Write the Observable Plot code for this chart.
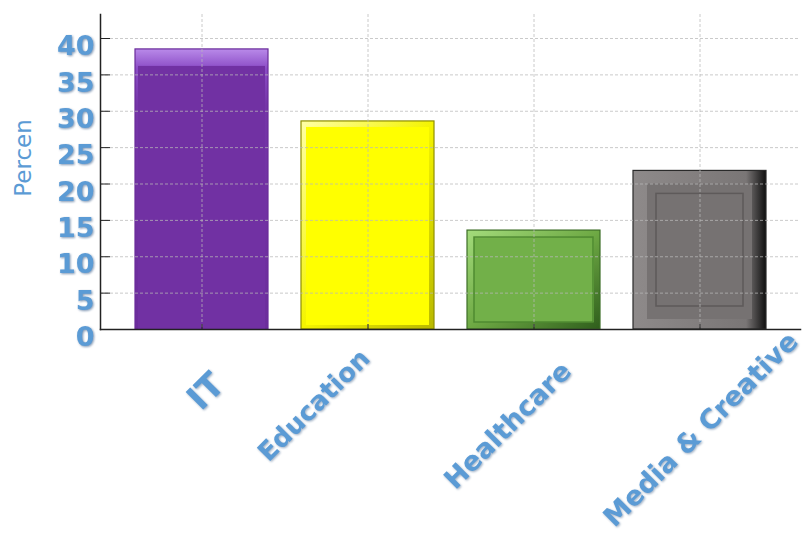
<!DOCTYPE html>
<html><head><meta charset="utf-8">
<script src="https://cdn.jsdelivr.net/npm/d3@7"></script>
<script src="https://cdn.jsdelivr.net/npm/@observablehq/plot@0.6"></script>
<style>
body{margin:0;background:#fff;}
#chart svg{display:block;}
</style></head><body><div id="chart"></div>
<script>
// ---- data ----
const categories = ["IT", "Education", "Healthcare", "Media & Creative"];
const values = [38.5, 28.6, 13.6, 21.8];
const yTicks = [0, 5, 10, 15, 20, 25, 30, 35, 40];
const yLabel = "Percen";

// ---- styles (not data) ----
const styles = [
  {base: "#7131a3", edge: "#6a2c9a", grad: [[0, "#b98ae9"], [0.07, "#8b4cc6"], [0.2, "#7535a8"], [1, "#6c2d9c"]], gx: [0, 0, 0, 1],
   ins: {t: 17, l: 3, r: 3, b: 0}, panel: null, size: 34, dx: 4, dy: 62},
  {base: "#ffff00", edge: "#8f8f00", grad: [[0, "#ffffa8"], [0.5, "#f4f400"], [1, "#b8b800"]], gx: [0, 0, 1, 1],
   ins: {t: 6, l: 5, r: 5, b: 4}, panel: null, size: 26, dx: -54, dy: 76},
  {base: "#72b049", edge: "#3d6e27", grad: [[0, "#a4dc7c"], [0.5, "#6ea944"], [1, "#2f5e1c"]], gx: [0, 0, 1, 1],
   ins: {t: 8, l: 7, r: 6, b: 7}, panel: "#4f8a31", pins: 7, size: 27, dx: -26, dy: 96},
  {base: "#767272", edge: "#2a2a2a", grad: [[0, "#8e8a8a"], [0.85, "#7a7676"], [1, "#101010"]], gx: [0, 0, 1, 0],
   ins: {t: 13, l: 14, r: 14, b: 10}, panel: "#5e5a5a", pins: 23, size: 27, dx: 1, dy: 100}
];
const blue = "#5b9bd5";

const data = categories.map((c, i) => ({category: c, value: values[i]}));

const barMarks = data.flatMap((d, i) => {
  const s = styles[i];
  const m = [
    Plot.barY([d], {x: "category", y: "value", fill: `url(#bev${i})`, stroke: s.edge, strokeWidth: 1.2}),
    Plot.barY([d], {x: "category", y: "value", fill: s.base,
      insetTop: s.ins.t, insetLeft: s.ins.l, insetRight: s.ins.r, insetBottom: s.ins.b})
  ];
  if (s.panel) {
    m.push(Plot.barY([d], {x: "category", y: "value", fill: "none", stroke: s.panel, strokeWidth: 1.5,
      inset: s.pins}));
  }
  return m;
});

const labelMarks = data.map((d, i) => {
  const s = styles[i];
  return Plot.text([d], {x: "category", text: "category", frameAnchor: "bottom",
    dx: s.dx, dy: s.dy, rotate: -45, textAnchor: "middle", lineAnchor: "middle",
    fontSize: s.size, fontWeight: "bold", fill: blue});
});

const plot = Plot.plot({
  width: 803,
  height: 534,
  marginTop: 14,
  marginBottom: 205,
  marginLeft: 100,
  marginRight: 3,
  style: {fontFamily: "DejaVu Sans", background: "#fff"},
  x: {domain: categories, padding: 0.2, label: null},
  y: {domain: [0, 43.3], label: null},
  marks: [
    ...barMarks,
    Plot.gridY(yTicks.filter(t => t > 0), {stroke: "#b8b8b8", strokeOpacity: 0.75, strokeDasharray: "3,2"}),
    Plot.gridX(categories, {stroke: "#b8b8b8", strokeOpacity: 0.75, strokeDasharray: "3,2"}),
    Plot.axisY(yTicks, {tickSize: 0, tickPadding: 6, dy: 8, fontSize: 27, fontWeight: "bold", fill: blue, label: null}),
    Plot.axisY(yTicks, {tickSize: -10, tickFormat: () => "", stroke: "#222", label: null}),
    Plot.axisX(categories, {tickSize: -5, tickFormat: () => "", stroke: "#222", label: null}),
    Plot.frame({anchor: "left", stroke: "#222", strokeWidth: 1.5}),
    Plot.frame({anchor: "bottom", stroke: "#222", strokeWidth: 1.5}),
    ...labelMarks,
    Plot.text([yLabel], {text: d => d, frameAnchor: "left", dx: -77, dy: -14, rotate: -90,
      textAnchor: "middle", lineAnchor: "middle", fontSize: 23, fill: blue})
  ]
});

// gradients for the bevelled bars
const svg = d3.select(plot);
const defs = svg.insert("defs", ":first-child");
styles.forEach((s, i) => {
  const g = defs.append("linearGradient").attr("id", "bev" + i)
    .attr("x1", s.gx[0]).attr("y1", s.gx[1]).attr("x2", s.gx[2]).attr("y2", s.gx[3]);
  s.grad.forEach(([o, c]) => g.append("stop").attr("offset", o).attr("stop-color", c));
});
svg.selectAll('rect[fill="url(#bev0)"]').style("filter", "drop-shadow(2px 5px 4px rgba(0,0,0,0.35))");
svg.selectAll('g[aria-label="y-axis tick label"]').style("filter", "drop-shadow(1px 1px 1px rgba(30,70,120,0.55))");
svg.selectAll('g[aria-label="text"]').filter(function() { return this.textContent !== yLabel; })
  .style("filter", "drop-shadow(1px 1px 1px rgba(30,70,120,0.45))");

document.getElementById("chart").append(plot);
</script>
</body></html>
